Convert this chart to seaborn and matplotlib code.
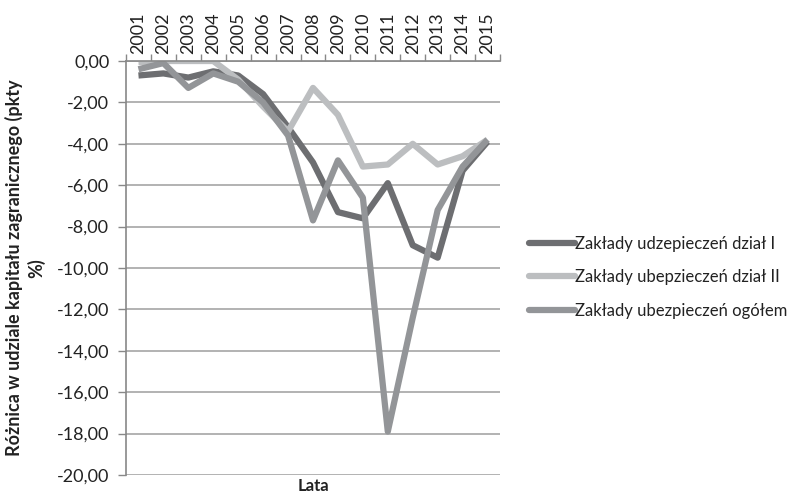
import matplotlib
matplotlib.use("Agg")
import matplotlib.pyplot as plt
import seaborn as sns
import pandas as pd
import numpy as np
from matplotlib.ticker import FixedLocator, FuncFormatter

years = [str(y) for y in range(2001, 2016)]
dzial_I = [-0.7, -0.6, -0.8, -0.5, -0.7, -1.6, -3.2, -4.9, -7.3, -7.6, -5.9, -8.9, -9.5, -5.3, -3.9]
dzial_II = [-0.05, 0.0, 0.0, 0.0, -0.9, -2.2, -3.4, -1.3, -2.6, -5.1, -5.0, -4.0, -5.0, -4.6, -3.8]
ogolem = [-0.4, -0.1, -1.3, -0.6, -1.0, -2.0, -3.6, -7.7, -4.8, -6.6, -17.9, -12.4, -7.2, -5.1, -3.8]
series_names = ["Zakłady udzepieczeń dział I", "Zakłady ubepzieczeń dział II", "Zakłady ubezpieczeń ogółem"]
colors = ["#6d6e71", "#bcbec0", "#939598"]

rows = []
for name, vals in zip(series_names, [dzial_I, dzial_II, ogolem]):
    for i, (yr, v) in enumerate(zip(years, vals)):
        rows.append({"pos": i, "rok": yr, "wartosc": v, "seria": name})
df = pd.DataFrame(rows)

sns.set_theme(style="white")
plt.rcParams['font.family'] = ['Lato', 'DejaVu Sans']

fig = plt.figure(figsize=(7.97, 4.96), dpi=100)
ax = fig.add_axes([126/797, 1-475/496, 374/797, 414/496])

sns.lineplot(data=df, x="pos", y="wartosc", hue="seria", palette=colors,
             hue_order=series_names, linewidth=4.5, ax=ax, legend=True,
             solid_capstyle="butt", solid_joinstyle="round")

ax.set_xlim(-0.5, 14.5)
ax.set_ylim(-20, 0)
ax.set_yticks(np.arange(-20, 0.1, 2))
ax.yaxis.set_major_formatter(FuncFormatter(lambda v, p: f"{v:.2f}".replace(".", ",").replace("-0,00", "0,00")))
ax.grid(axis="y", color="#a6a6a6", linewidth=1.2)
ax.set_axisbelow(True)

ax.xaxis.tick_top()
ax.set_xticks(range(len(years)))
ax.set_xticklabels(years, rotation=90, fontsize=13, color="#222222")
ax.xaxis.set_minor_locator(FixedLocator(np.arange(-0.5, 14.6, 1)))
ax.tick_params(axis="x", which="major", length=0, pad=5, top=True, bottom=False)
ax.tick_params(axis="x", which="minor", length=5, width=1, color="#888888", top=True, bottom=False, direction="out")
ax.tick_params(axis="y", which="major", length=6, width=1, color="#888888", left=True, labelsize=13, labelcolor="#222222", pad=6)

for s in ["right", "bottom"]:
    ax.spines[s].set_visible(False)
for s in ["left", "top"]:
    ax.spines[s].set_color("#888888")
    ax.spines[s].set_linewidth(1.2)

ax.set_xlabel("")
ax.set_ylabel("Różnica w udziale kapitału zagranicznego (pkty\n%)", fontsize=13, fontweight="bold", color="#222222", labelpad=8, linespacing=1.3)
fig.text(313/797, 1-486/496, "Lata", ha="center", va="center", fontsize=12, fontweight="bold", color="#222222")

leg = ax.legend(loc="upper left", bbox_to_anchor=(522/797, 1-229/496), bbox_transform=fig.transFigure,
                frameon=False, fontsize=12, handlelength=2.8, handletextpad=0.0, labelspacing=1.05,
                borderaxespad=0)
for t in leg.get_texts():
    t.set_color("#222222")
for l in leg.get_lines():
    l.set_linewidth(4.5)
    l.set_solid_capstyle("round")

fig.savefig("out.png", dpi=100)
